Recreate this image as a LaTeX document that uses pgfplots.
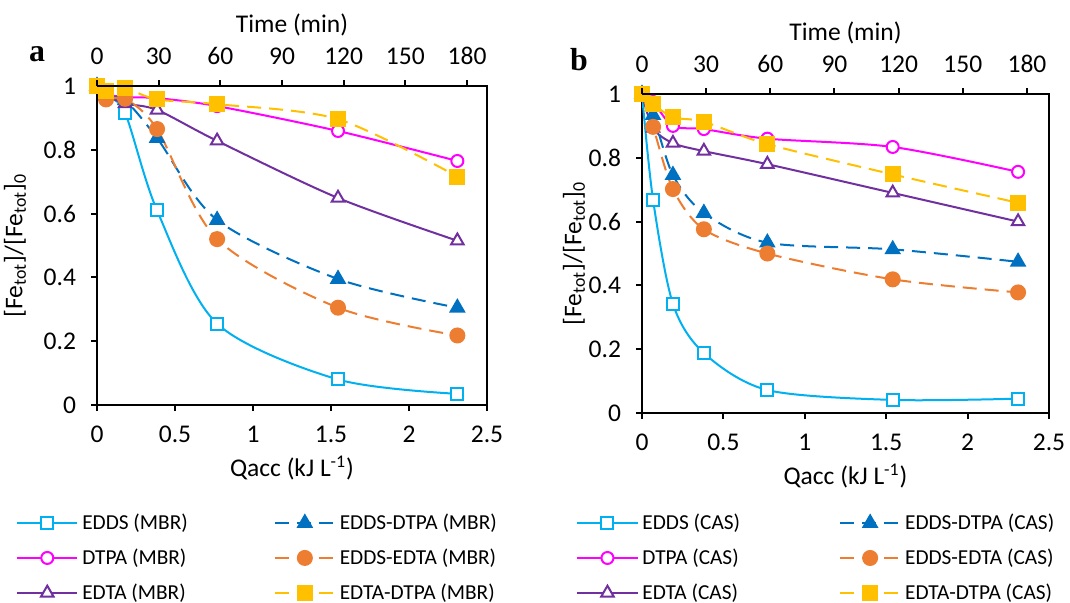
\documentclass[border=0pt]{standalone}
\usepackage{pgfplots}
\pgfplotsset{compat=1.18}
\usepackage{fontspec}
\setmainfont{Carlito}
\newfontfamily\panelfont{Liberation Serif}

\definecolor{cEDDS}{HTML}{00B0F0}
\definecolor{cDTPA}{HTML}{FF00FF}
\definecolor{cEDTA}{HTML}{7030A0}
\definecolor{cEDDSDTPA}{HTML}{0070C0}
\definecolor{cEDDSEDTA}{HTML}{ED7D31}
\definecolor{cEDTADTPA}{HTML}{FFC000}

\newcommand{\lblfont}{\fontsize{10.7}{13}\selectfont}
\newcommand{\axfont}{\fontsize{12.8}{15}\selectfont}

\pgfplotsset{
  sEDDS/.style={cEDDS, line width=1bp, solid, smooth, mark=square*, mark size=3bp,
    mark options={solid, fill=white, line width=1bp}},
  sDTPA/.style={cDTPA, line width=1bp, solid, smooth, mark=*, mark size=3bp,
    mark options={solid, fill=white, line width=1bp}},
  sEDTA/.style={cEDTA, line width=1bp, solid, smooth, mark=triangle*, mark size=3.6bp,
    mark options={solid, fill=white, line width=1bp}},
  sEDDSDTPA/.style={cEDDSDTPA, line width=1bp, smooth, dash pattern=on 7bp off 4bp,
    mark=triangle*, mark size=3.8bp, mark options={solid, fill=cEDDSDTPA}},
  sEDDSEDTA/.style={cEDDSEDTA, line width=1bp, smooth, dash pattern=on 7bp off 4bp,
    mark=*, mark size=3.5bp, mark options={solid, fill=cEDDSEDTA}},
  sEDTADTPA/.style={cEDTADTPA, line width=1bp, smooth, dash pattern=on 7bp off 4bp,
    mark=square*, mark size=3.5bp, mark options={solid, fill=cEDTADTPA}},
  main/.style={
    scale only axis,
    xmin=0, xmax=2.5, ymin=0, ymax=1,
    xtick={0,0.5,1,1.5,2,2.5},
    ytick={0,0.2,0.4,0.6,0.8,1},
    xtick pos=left, ytick pos=left,
    tick align=outside, major tick length=3bp,
    axis line style={line width=1bp},
    every tick/.style={black, line width=1bp},
    tick label style={font=\axfont},
    xticklabel style={yshift=-4bp},
    yticklabel style={xshift=-4bp},
    label style={font=\axfont},
    /pgf/number format/assume math mode=true,
    xlabel={Qacc (kJ L\textsuperscript{-1})},
    ylabel={[Fe\textsubscript{tot}]/[Fe\textsubscript{tot}]\textsubscript{0}},
    legend columns=2,
    legend cell align=left,
    legend style={draw=none, fill=none, font=\lblfont, inner sep=0pt,
      row sep=4.2bp},
    legend image code/.code={
      \draw[mark repeat=2, mark phase=2] plot coordinates {(0bp,0bp) (15bp,0bp) (30bp,0bp)};},
  },
  top/.style={
    scale only axis,
    xmin=0, ymin=0, ymax=1,
    axis x line*=top, axis y line=none,
    xtick={0,30,60,90,120,150,180},
    tick align=outside, major tick length=3bp,
    axis line style={line width=1bp},
    every tick/.style={black, line width=1bp},
    tick label style={font=\axfont},
    xticklabel style={yshift=4bp},
    label style={font=\axfont},
    xlabel style={yshift=-1bp},
    /pgf/number format/assume math mode=true,
    xlabel={Time (min)},
  },
}

\begin{document}
\begin{tikzpicture}
\useasboundingbox (0,0) rectangle (535bp,-301.5bp);

% ---------------- panel a (MBR) ----------------
\begin{axis}[main, at={(48.5bp,-202.5bp)}, anchor=south west,
  width=195bp, height=159.5bp, ylabel style={yshift=2bp},
  legend style={at={(-0.208,-0.327)}, anchor=north west,
    /tikz/every even column/.append style={column sep=41bp}}]
\addlegendimage{sEDDS}\addlegendentry{EDDS (MBR)}
\addlegendimage{sEDDSDTPA}\addlegendentry{EDDS-DTPA (MBR)}
\addlegendimage{sDTPA}\addlegendentry{DTPA (MBR)}
\addlegendimage{sEDDSEDTA}\addlegendentry{EDDS-EDTA (MBR)}
\addlegendimage{sEDTA}\addlegendentry{EDTA (MBR)}
\addlegendimage{sEDTADTPA}\addlegendentry{EDTA-DTPA (MBR)}

\addplot[sEDDS, forget plot] coordinates {
  (0,1) (0.058,0.97) (0.18,0.915) (0.385,0.61) (0.77,0.255) (1.545,0.08) (2.31,0.035)};
\addplot[sDTPA, forget plot] coordinates {
  (0,1) (0.058,0.975) (0.18,0.965) (0.385,0.962) (0.77,0.937) (1.545,0.859) (2.31,0.765)};
\addplot[sEDTA, forget plot] coordinates {
  (0,1) (0.058,0.972) (0.18,0.945) (0.385,0.925) (0.77,0.828) (1.545,0.649) (2.31,0.515)};
\addplot[sEDDSDTPA, forget plot] coordinates {
  (0,1) (0.058,0.97) (0.18,0.955) (0.385,0.837) (0.77,0.58) (1.545,0.395) (2.31,0.305)};
\addplot[sEDDSEDTA, forget plot] coordinates {
  (0,1) (0.058,0.958) (0.18,0.96) (0.385,0.865) (0.77,0.52) (1.545,0.305) (2.31,0.218)};
\addplot[sEDTADTPA, forget plot] coordinates {
  (0,1) (0.058,0.985) (0.18,0.993) (0.385,0.958) (0.77,0.943) (1.545,0.896) (2.31,0.716)};
\end{axis}
\begin{axis}[top, at={(48.5bp,-202.5bp)}, anchor=south west,
  width=195bp, height=159.5bp, xmax=189.7]
\end{axis}

% ---------------- panel b (CAS) ----------------
\begin{axis}[main, at={(321bp,-206.5bp)}, anchor=south west,
  width=203.5bp, height=159.5bp, ylabel style={yshift=-5bp},
  legend style={at={(-0.162,-0.302)}, anchor=north west,
    /tikz/every even column/.append style={column sep=47.5bp}}]
\addlegendimage{sEDDS}\addlegendentry{EDDS (CAS)}
\addlegendimage{sEDDSDTPA}\addlegendentry{EDDS-DTPA (CAS)}
\addlegendimage{sDTPA}\addlegendentry{DTPA (CAS)}
\addlegendimage{sEDDSEDTA}\addlegendentry{EDDS-EDTA (CAS)}
\addlegendimage{sEDTA}\addlegendentry{EDTA (CAS)}
\addlegendimage{sEDTADTPA}\addlegendentry{EDTA-DTPA (CAS)}

\addplot[sEDDS, forget plot] coordinates {
  (0,1) (0.068,0.668) (0.19,0.342) (0.38,0.188) (0.77,0.072) (1.54,0.041) (2.31,0.045)};
\addplot[sDTPA, forget plot] coordinates {
  (0,1) (0.068,0.975) (0.19,0.9) (0.38,0.89) (0.77,0.86) (1.54,0.834) (2.31,0.756)};
\addplot[sEDTA, forget plot] coordinates {
  (0,1) (0.068,0.893) (0.19,0.846) (0.38,0.821) (0.77,0.78) (1.54,0.69) (2.31,0.6)};
\addplot[sEDDSDTPA, forget plot] coordinates {
  (0,1) (0.068,0.934) (0.19,0.746) (0.38,0.627) (0.77,0.534) (1.54,0.513) (2.31,0.474)};
\addplot[sEDDSEDTA, forget plot] coordinates {
  (0,1) (0.068,0.897) (0.19,0.702) (0.38,0.576) (0.77,0.5) (1.54,0.419) (2.31,0.378)};
\addplot[sEDTADTPA, forget plot] coordinates {
  (0,1) (0.068,0.969) (0.19,0.927) (0.38,0.913) (0.77,0.843) (1.54,0.748) (2.31,0.659)};
\end{axis}
\begin{axis}[top, at={(321bp,-206.5bp)}, anchor=south west,
  width=203.5bp, height=159.5bp, xmax=190.3]
\end{axis}

\node[font=\panelfont\bfseries\fontsize{16}{16}\selectfont] at (18.5bp,-27bp) {a};
\node[font=\panelfont\bfseries\fontsize{16}{16}\selectfont] at (289.5bp,-30bp) {b};
\end{tikzpicture}
\end{document}
